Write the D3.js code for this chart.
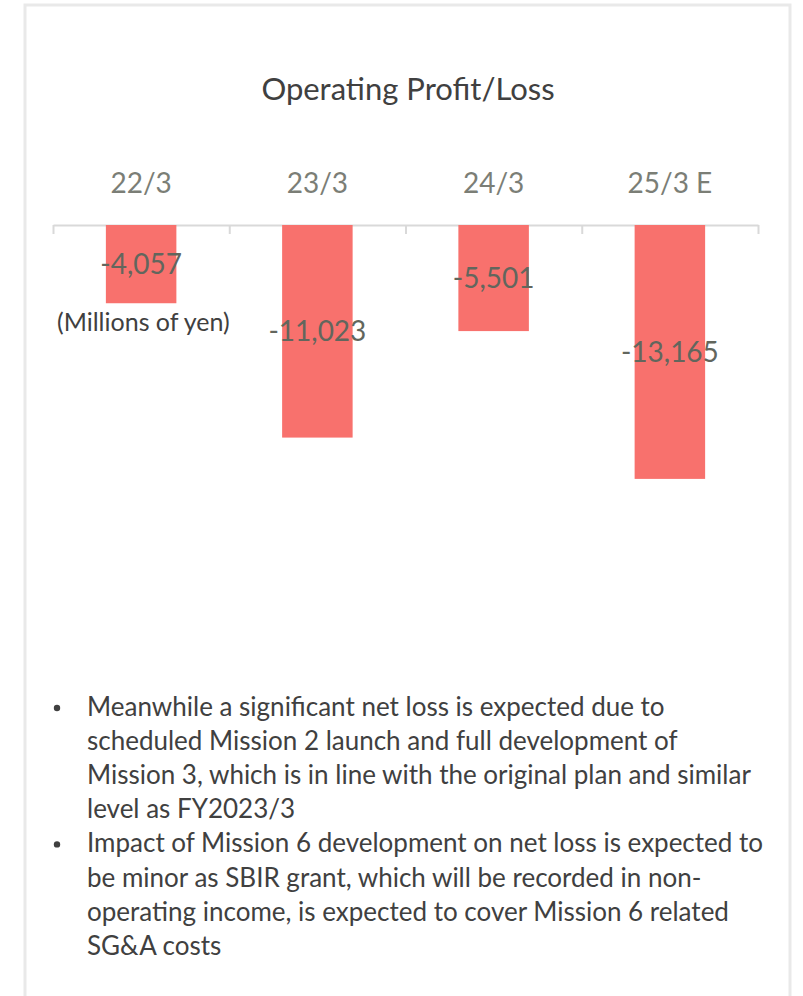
<!DOCTYPE html>
<html>
<head>
<meta charset="utf-8">
<script src="https://cdn.jsdelivr.net/npm/d3@7"></script>
<style>
  html, body { margin: 0; padding: 0; background: #ffffff; }
  svg { display: block; }
  text { font-family: Lato, "Open Sans", "Noto Sans", sans-serif; }
</style>
</head>
<body>
<svg id="chart" width="803" height="996"></svg>
<script>
// Fiscal years and operating profit/loss (millions of yen)
const categories = ["22/3", "23/3", "24/3", "25/3 E"];
const operatingProfit = [-4057, -11023, -5501, -13165];
const title = "Operating Profit/Loss";
const unitNote = "(Millions of yen)";
const notes = [
  ["Meanwhile a significant net loss is expected due to",
   "scheduled Mission 2 launch and full development of",
   "Mission 3, which is in line with the original plan and similar",
   "level as FY2023/3"],
  ["Impact of Mission 6 development on net loss is expected to",
   "be minor as SBIR grant, which will be recorded in non-",
   "operating income, is expected to cover Mission 6 related",
   "SG&A costs"]
];

const svg = d3.select("#chart");
const fmt = d3.format(",");

// Panel frame (open at the bottom)
svg.append("path")
  .attr("d", "M25,996 V5 H790 V996")
  .attr("fill", "none")
  .attr("stroke", "#e9e9e9")
  .attr("stroke-width", 3);

// Title
svg.append("text")
  .attr("x", 408).attr("y", 100)
  .attr("text-anchor", "middle")
  .attr("font-size", 31)
  .attr("fill", "#404040")
  .text(title);

// Scales
const x = d3.scaleBand()
  .domain(categories)
  .range([53, 758])
  .paddingInner(0.6)
  .paddingOuter(0.3);

const y = d3.scaleLinear()
  .domain([-14000, 0])
  .range([495, 225]);

// Category boundary axis (line with downward ticks between categories)
const edges = d3.scaleLinear().domain([0, categories.length]).range(x.range());
const baseAxis = svg.append("g")
  .attr("transform", `translate(0,${y(0)})`)
  .call(d3.axisBottom(edges)
    .tickValues(d3.range(categories.length + 1))
    .tickSize(9)
    .tickSizeOuter(0)
    .tickFormat(""));
baseAxis.selectAll("path, line")
  .attr("stroke", "#d9d9d9")
  .attr("stroke-width", 2);

// Bars
svg.append("g").selectAll("rect")
  .data(operatingProfit)
  .join("rect")
  .attr("x", (d, i) => x(categories[i]))
  .attr("width", x.bandwidth())
  .attr("y", d => y(Math.max(0, d)))
  .attr("height", d => Math.abs(y(d) - y(0)))
  .attr("fill", "#f8716d");

// Category labels above the axis
const catAxis = svg.append("g")
  .attr("transform", "translate(0,193)")
  .call(d3.axisTop(x).tickSize(0).tickPadding(0));
catAxis.select(".domain").remove();
catAxis.selectAll("text")
  .attr("font-size", 28)
  .attr("fill", "#7b7e76")
  .style("font-family", "Lato, 'Open Sans', sans-serif");

// Value labels centred in each bar
svg.append("g").selectAll("text")
  .data(operatingProfit)
  .join("text")
  .attr("x", (d, i) => x(categories[i]) + x.bandwidth() / 2)
  .attr("y", d => (y(d) + y(0)) / 2 + 10)
  .attr("text-anchor", "middle")
  .attr("font-size", 28)
  .attr("fill", "#62665d")
  .text(d => fmt(d).replace("−", "-"));

// Unit note
svg.append("text")
  .attr("x", 57).attr("y", 331)
  .attr("font-size", 25)
  .attr("fill", "#404040")
  .text(unitNote);

// Bullet notes
const lineH = 34.1;
let row = 0;
const notesG = svg.append("g");
notes.forEach(lines => {
  notesG.append("circle")
    .attr("cx", 57).attr("cy", 716 + row * lineH - 8)
    .attr("r", 3.2)
    .attr("fill", "#404040");
  lines.forEach(line => {
    notesG.append("text")
      .attr("x", 87).attr("y", 716 + row * lineH)
      .attr("font-size", 26)
      .attr("fill", "#404040")
      .text(line);
    row++;
  });
});
</script>
</body>
</html>
